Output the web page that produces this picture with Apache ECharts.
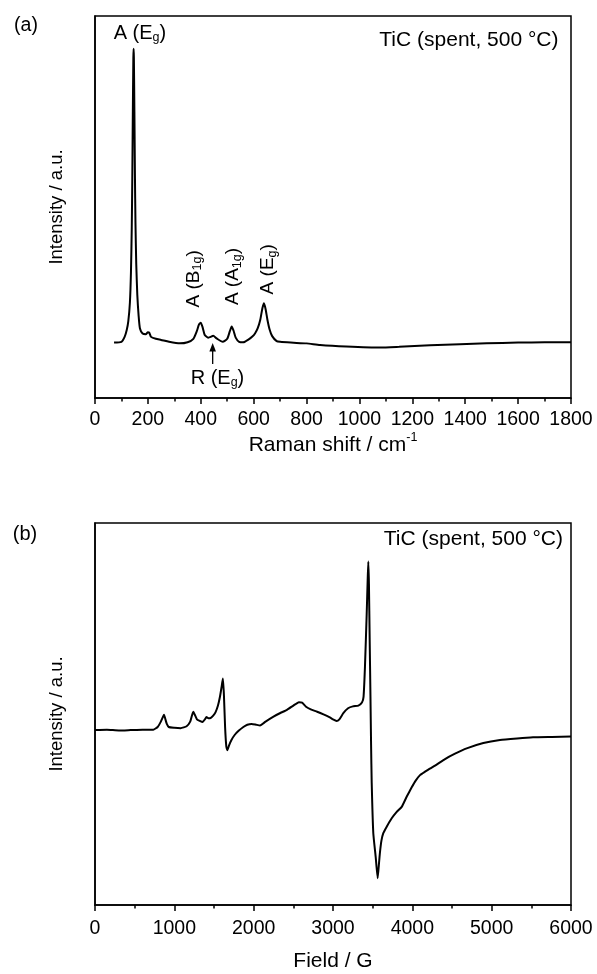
<!DOCTYPE html>
<html>
<head>
<meta charset="utf-8">
<script src="https://cdn.jsdelivr.net/npm/echarts@6/dist/echarts.min.js"></script>
<style>
  html, body { margin: 0; padding: 0; background: #fff; }
  #c { width: 597px; height: 974px; }
</style>
</head>
<body>
<div id="c"></div>
<script>
// (a) Raman spectrum, TiC spent at 500 °C
const ramanShift = [72, 100, 112, 120, 126, 132, 136, 139, 141, 143, 145, 146, 147, 149, 151, 153, 156, 160, 165, 170,
  180, 192, 200, 205, 212, 230, 250, 280, 321, 350, 372, 385, 393, 400, 407, 415, 428, 438, 447, 460,
  483, 500, 510, 517, 524, 532, 545, 561, 580, 595, 605, 615, 625, 633, 639, 645, 652, 660, 670, 687,
  700, 740, 800, 851, 950, 1078, 1150, 1267, 1380, 1481, 1600, 1700, 1800];
const ramanIntensity = [14.5, 14.7, 16.0, 17.8, 20.1, 25.0, 33.0, 44.5, 57.4, 74.3, 89.0, 91.4, 89.2, 75.0, 58.5, 46.0, 35.0, 27.0, 21.5, 18.2,
  16.9, 16.7, 17.2, 17.1, 16.0, 15.5, 15.2, 14.7, 14.3, 14.6, 15.5, 17.5, 19.2, 19.7, 18.5, 16.5, 15.8, 16.0, 16.3, 15.6,
  14.7, 15.5, 17.5, 18.7, 17.6, 15.8, 14.7, 14.6, 15.3, 16.1, 16.9, 18.2, 20.5, 23.5, 24.8, 23.3, 20.5, 18.0, 16.2, 14.9,
  14.7, 14.5, 14.3, 13.9, 13.5, 13.2, 13.4, 13.8, 14.1, 14.3, 14.5, 14.6, 14.6];

// (b) EPR spectrum
const eprField = [0, 150, 300, 450, 600, 735, 790, 830, 858, 870, 885, 905, 930, 1000, 1080, 1155, 1200, 1225, 1240, 1258,
  1285, 1320, 1357, 1385, 1405, 1430, 1460, 1490, 1520, 1550, 1575, 1595, 1612, 1625, 1640, 1655, 1668, 1690, 1720, 1760,
  1810, 1870, 1920, 1975, 2030, 2080, 2150, 2250, 2330, 2420, 2500, 2570, 2610, 2660, 2720, 2800, 2880, 2960, 3000, 3045,
  3080, 3130, 3190, 3250, 3320, 3365, 3385, 3403, 3425, 3437, 3445, 3453, 3462, 3472, 3480, 3488, 3508, 3538, 3563, 3580,
  3592, 3610, 3634, 3677, 3740, 3803, 3866, 3930, 3992, 4040, 4097, 4160, 4220, 4286, 4412, 4538, 4685, 4895, 5105, 5320,
  5521, 5760, 6000];
const eprIntensity = [45.8, 45.9, 45.7, 45.8, 45.9, 45.9, 46.6, 48.0, 49.3, 49.8, 48.8, 47.4, 46.6, 46.4, 46.3, 46.8, 48.0, 49.8, 50.6, 49.8,
  48.6, 48.2, 47.9, 48.6, 49.2, 48.9, 49.0, 49.6, 50.5, 52.2, 54.5, 57.0, 59.3, 55.0, 46.5, 41.5, 40.5, 41.8, 43.2, 44.5,
  45.6, 46.6, 47.2, 47.4, 47.2, 47.0, 48.0, 49.3, 50.2, 51.1, 52.2, 53.1, 53.0, 51.9, 51.2, 50.6, 49.9, 49.1, 48.6, 48.2,
  48.6, 50.2, 51.5, 52.0, 52.2, 53.0, 54.5, 62.4, 76.4, 85.1, 89.9, 84.0, 70.0, 55.0, 42.0, 31.9, 18.8, 12.6, 7.0, 11.0,
  13.8, 16.8, 18.8, 20.5, 22.7, 24.4, 25.7, 28.4, 30.8, 32.5, 34.0, 34.9, 35.7, 36.5, 38.2, 39.6, 41.0, 42.4, 43.2, 43.6,
  43.9, 44.0, 44.1];

// axis ranges: [min, max, major interval]
const ramanRange = [0, 1800, 200];
const eprRange = [0, 6000, 1000];
const intensityRange = [0, 100];

// peak assignments (Raman shift, intensity)
const ramanLabels = [
  { text: 'A (E{s|g})', x: 170, y: 95.5, rotate: 0, size: 20 },
  { text: 'A (B{s|1g})', x: 372, y: 31.2, rotate: 90, size: 19 },
  { text: 'A (A{s|1g})', x: 521, y: 31.8, rotate: 90, size: 19 },
  { text: 'A (E{s|g})', x: 653, y: 33.7, rotate: 90, size: 19 },
  { text: 'R (E{s|g})', x: 463, y: 5.1, rotate: 0, size: 20 }
];
const ramanArrow = { x: 445, from: 8.9, to: 14.4 };

const FONT = '"Liberation Sans", Arial, Helvetica, sans-serif';
const BLACK = '#000';

function xAxisDef(gridIndex, range, name, nameGap, margin, nameStyle) {
  return {
    type: 'value', gridIndex,
    min: range[0], max: range[1], interval: range[2],
    name, nameLocation: 'middle', nameGap,
    nameTextStyle: Object.assign({ fontSize: 21, color: BLACK, fontFamily: FONT }, nameStyle || {}),
    axisLine: { show: true, onZero: false, lineStyle: { color: BLACK, width: 1.5 } },
    axisTick: { show: true, inside: false, length: 6, lineStyle: { color: BLACK, width: 1.5 } },
    minorTick: { show: true, splitNumber: 2, length: 3.5, lineStyle: { color: BLACK, width: 1.5 } },
    axisLabel: {
      show: true, margin, fontSize: 19.5, color: BLACK, fontFamily: FONT, hideOverlap: false,
      formatter: v => String(v)
    },
    splitLine: { show: false }, minorSplitLine: { show: false }
  };
}
function yAxisDef(gridIndex) {
  return {
    type: 'value', gridIndex, min: intensityRange[0], max: intensityRange[1],
    name: 'Intensity / a.u.', nameLocation: 'middle', nameGap: 29, nameRotate: 90,
    nameTextStyle: { fontSize: 18.5, color: BLACK, fontFamily: FONT },
    axisLine: { show: true, onZero: false, lineStyle: { color: BLACK, width: 1.5 } },
    axisTick: { show: false }, axisLabel: { show: false }, splitLine: { show: false }
  };
}

const chart = echarts.init(document.getElementById('c'), null, { renderer: 'canvas' });

const option = {
  animation: false,
  backgroundColor: '#fff',
  grid: [
    { left: 95, right: 26, top: 16, height: 382, show: true, borderColor: BLACK, borderWidth: 1.5 },
    { left: 95, right: 26, top: 523, height: 382, show: true, borderColor: BLACK, borderWidth: 1.5 }
  ],
  xAxis: [
    xAxisDef(0, ramanRange, 'Raman shift / cm{sup|-1}', 31, 12, {
      lineHeight: 28,
      rich: { sup: { fontSize: 12.5, lineHeight: 12, verticalAlign: 'top', color: BLACK, fontFamily: FONT } }
    }),
    xAxisDef(1, eprRange, 'Field / G', 45.5, 13.5)
  ],
  yAxis: [yAxisDef(0), yAxisDef(1)],
  series: [
    {
      type: 'line', xAxisIndex: 0, yAxisIndex: 0, showSymbol: false, smooth: 0.2,
      lineStyle: { color: BLACK, width: 2 },
      data: ramanShift.map((x, i) => [x, ramanIntensity[i]])
    },
    {
      type: 'line', xAxisIndex: 1, yAxisIndex: 1, showSymbol: false, smooth: 0.15,
      lineStyle: { color: BLACK, width: 2 },
      data: eprField.map((x, i) => [x, eprIntensity[i]])
    }
  ]
};
chart.setOption(option);

// text and arrow overlays placed from data coordinates
const subRich = { s: { fontSize: 12.5, lineHeight: 12, verticalAlign: 'bottom', fill: BLACK, fontFamily: FONT } };
const overlays = [];
function plainText(txt, x, y, align, size) {
  return {
    type: 'text', x, y, silent: true,
    style: { text: txt, fill: BLACK, fontSize: size, fontFamily: FONT, align, verticalAlign: 'middle' }
  };
}
overlays.push(plainText('(a)', 26, 26, 'center', 19.5));
overlays.push(plainText('(b)', 25, 534, 'center', 20));
overlays.push(plainText('TiC (spent, 500 °C)', 558.5, 40, 'right', 21));
overlays.push(plainText('TiC (spent, 500 °C)', 563, 539, 'right', 21));

ramanLabels.forEach(l => {
  const p = chart.convertToPixel({ gridIndex: 0 }, [l.x, l.y]);
  overlays.push({
    type: 'text', x: p[0], y: p[1], rotation: l.rotate * Math.PI / 180, silent: true,
    style: {
      text: l.text, fill: BLACK, fontSize: l.size, lineHeight: 22, fontFamily: FONT,
      align: 'center', verticalAlign: 'middle', rich: subRich
    }
  });
});

const tail = chart.convertToPixel({ gridIndex: 0 }, [ramanArrow.x, ramanArrow.from]);
const tip = chart.convertToPixel({ gridIndex: 0 }, [ramanArrow.x, ramanArrow.to]);
overlays.push({
  type: 'line', silent: true,
  shape: { x1: tail[0], y1: tail[1], x2: tip[0], y2: tip[1] + 6 },
  style: { stroke: BLACK, lineWidth: 1.3 }
});
overlays.push({
  type: 'polygon', silent: true,
  shape: { points: [[tip[0], tip[1]], [tip[0] - 3.3, tip[1] + 8.5], [tip[0] + 3.3, tip[1] + 8.5]] },
  style: { fill: BLACK }
});

chart.setOption({ graphic: overlays });
</script>
</body>
</html>
